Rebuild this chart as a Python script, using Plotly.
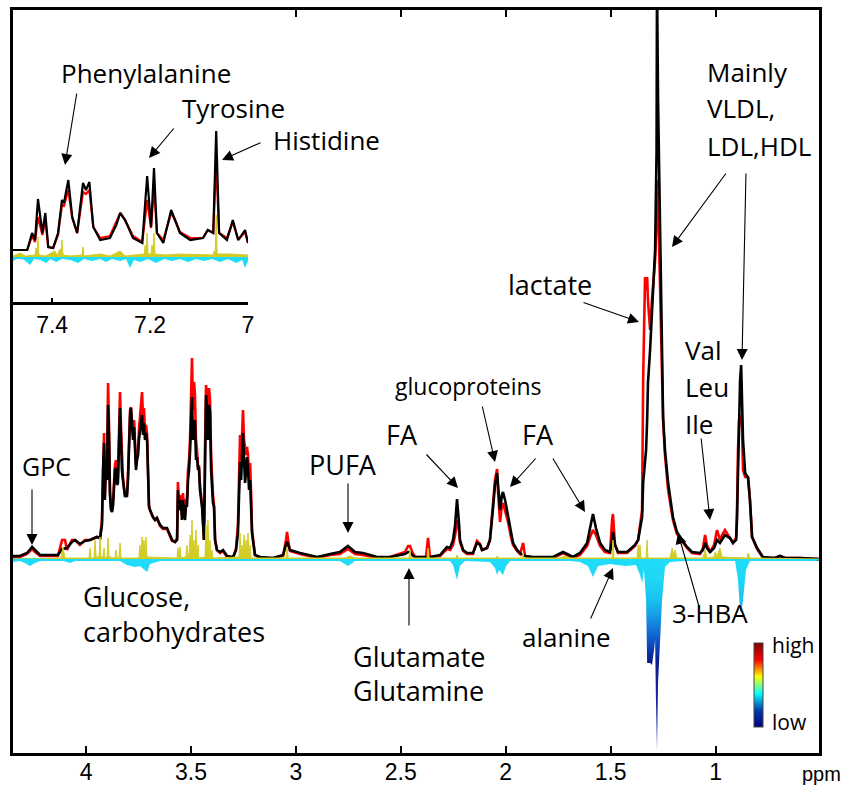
import plotly.graph_objects as go

# ---------------- data ----------------
main_ppm = [4.348, 4.315, 4.281, 4.267, 4.257, 4.243, 4.219, 4.172, 4.134, 4.114, 4.100, 4.091, 4.067, 4.052, 4.029, 4.005, 3.981, 3.948, 3.933, 3.924,
            3.919, 3.914, 3.910, 3.905, 3.900, 3.895, 3.890, 3.886, 3.881, 3.876, 3.871, 3.867, 3.862, 3.857, 3.852, 3.848, 3.843, 3.838, 3.833, 3.829,
            3.824, 3.819, 3.814, 3.810, 3.805, 3.800, 3.795, 3.790, 3.786, 3.781, 3.776, 3.771, 3.767, 3.762, 3.757, 3.752, 3.748, 3.743, 3.738, 3.733,
            3.728, 3.724, 3.719, 3.714, 3.709, 3.705, 3.700, 3.695, 3.681, 3.671, 3.662, 3.647, 3.633, 3.614, 3.600, 3.590, 3.576, 3.566, 3.562, 3.557,
            3.552, 3.547, 3.543, 3.538, 3.533, 3.528, 3.524, 3.519, 3.514, 3.509, 3.504, 3.500, 3.495, 3.490, 3.485, 3.481, 3.476, 3.471, 3.466, 3.462,
            3.457, 3.447, 3.442, 3.438, 3.433, 3.428, 3.424, 3.419, 3.414, 3.409, 3.404, 3.400, 3.395, 3.390, 3.385, 3.376, 3.361, 3.347, 3.328, 3.299,
            3.285, 3.276, 3.271, 3.266, 3.261, 3.256, 3.252, 3.247, 3.242, 3.237, 3.233, 3.228, 3.223, 3.218, 3.213, 3.209, 3.195, 3.171, 3.109, 3.061,
            3.047, 3.042, 3.037, 3.028, 2.980, 2.899, 2.837, 2.790, 2.752, 2.718, 2.680, 2.613, 2.551, 2.480, 2.465, 2.456, 2.446, 2.432, 2.380, 2.370,
            2.361, 2.313, 2.280, 2.265, 2.251, 2.241, 2.232, 2.222, 2.218, 2.203, 2.184, 2.156, 2.137, 2.122, 2.113, 2.089, 2.075, 2.060, 2.051, 2.041,
            2.037, 2.027, 2.018, 2.013, 2.003, 1.989, 1.975, 1.965, 1.946, 1.932, 1.917, 1.908, 1.870, 1.774, 1.727, 1.679, 1.646, 1.612, 1.598, 1.584,
            1.570, 1.550, 1.527, 1.503, 1.493, 1.489, 1.479, 1.465, 1.422, 1.398, 1.384, 1.369, 1.350, 1.345, 1.336, 1.331, 1.326, 1.322, 1.312, 1.303,
            1.288, 1.281, 1.279, 1.274, 1.264, 1.255, 1.250, 1.241, 1.226, 1.203, 1.184, 1.160, 1.136, 1.112, 1.074, 1.060, 1.050, 1.041, 1.026, 1.007,
            0.993, 0.979, 0.969, 0.955, 0.940, 0.931, 0.917, 0.902, 0.898, 0.893, 0.888, 0.883, 0.878, 0.874, 0.869, 0.859, 0.845, 0.836, 0.826, 0.802,
            0.774, 0.717, 0.693, 0.669, 0.597, 0.507]

serum_black = [3, 3, 6, 10, 12, 9, 4, 4, 4, 10, 11, 11, 17, 19, 15, 18, 19, 22, 21, 34,
               89, 116, 59, 99, 79, 154, 119, 64, 49, 47, 54, 69, 89, 91, 74, 76, 129, 151, 119, 89,
               79, 69, 62, 64, 62, 79, 119, 144, 151, 134, 119, 132, 109, 89, 99, 104, 119, 129, 139, 144,
               124, 136, 119, 126, 119, 89, 52, 49, 42, 39, 41, 34, 31, 31, 24, 19, 17, 19, 69, 49,
               59, 54, 39, 59, 44, 39, 54, 52, 79, 89, 109, 139, 162, 119, 129, 139, 99, 102, 89, 92,
               69, 52, 34, 19, 89, 164, 154, 119, 154, 147, 89, 72, 56, 52, 19, 9, 7, 9, 3, 2,
               9, 26, 69, 97, 79, 109, 126, 99, 76, 89, 102, 89, 69, 79, 54, 26, 4, 2, 1, 4,
               14, 17, 14, 9, 6, 2, 5, 7, 13, 7, 6, 2, 2, 5, 7, 7, 4, 2, 2, 2,
               2, 4, 12, 11, 19, 34, 60, 34, 19, 9, 6, 6, 16, 14, 9, 11, 19, 52, 74, 86,
               74, 49, 64, 67, 59, 42, 24, 16, 9, 6, 4, 3, 2, 2, 7, 2, 6, 16, 31, 45,
               31, 16, 9, 7, 19, 27, 14, 7, 7, 11, 14, 19, 42, 76, 99, 109, 139, 176, 209, 242,
               309, 409, 579, 459, 309, 209, 142, 109, 76, 42, 27, 19, 12, 7, 6, 9, 16, 11, 7, 11,
               19, 16, 19, 24, 22, 21, 16, 19, 39, 99, 159, 179, 194, 159, 119, 86, 81, 59, 22, 11,
               2, 1, 3, 1, 1, 0]

serum_red = [2, 2, 5, 8, 10, 7, 3, 3, 3, 19, 19, 9, 19, 19, 14, 19, 19, 22, 21, 39,
             99, 126, 64, 109, 89, 176, 129, 69, 51, 49, 59, 74, 94, 99, 79, 81, 139, 167, 129, 94,
             81, 71, 64, 66, 64, 84, 129, 149, 152, 139, 124, 139, 114, 94, 104, 109, 129, 144, 159, 167,
             139, 151, 129, 134, 124, 94, 54, 49, 42, 39, 41, 33, 30, 30, 23, 18, 17, 21, 77, 54,
             64, 59, 44, 66, 49, 44, 59, 59, 89, 99, 122, 159, 201, 149, 177, 164, 119, 109, 91, 94,
             74, 54, 37, 19, 109, 174, 164, 139, 171, 159, 104, 79, 64, 54, 19, 9, 6, 8, 2, 1,
             11, 34, 89, 124, 99, 134, 149, 119, 109, 104, 112, 104, 84, 96, 64, 29, 4, 1, 1, 3,
             19, 27, 19, 8, 5, 1, 4, 5, 10, 5, 4, 1, 2, 7, 13, 13, 7, 2, 2, 21,
             2, 3, 10, 9, 14, 24, 39, 27, 17, 8, 5, 5, 18, 15, 9, 11, 19, 54, 79, 90,
             69, 37, 54, 56, 49, 37, 22, 14, 8, 5, 16, 3, 1, 1, 6, 1, 4, 13, 22, 29,
             24, 13, 7, 6, 39, 45, 14, 6, 6, 10, 13, 19, 49, 179, 282, 269, 282, 259, 229, 259,
             299, 339, 379, 359, 269, 189, 139, 104, 69, 39, 25, 18, 11, 6, 5, 11, 24, 14, 7, 14,
             29, 19, 24, 29, 24, 22, 16, 21, 44, 109, 139, 144, 139, 132, 89, 82, 82, 59, 22, 10,
             1, 1, 3, 1, 1, 0]

diff_pos_ppm = [4.348, 4.219, 4.119, 4.110, 4.100, 3.986, 3.981, 3.976, 3.962, 3.957, 3.952, 3.938, 3.933, 3.929, 3.919, 3.914, 3.910, 3.900, 3.895, 3.890,
                3.862, 3.857, 3.852, 3.843, 3.838, 3.833, 3.748, 3.743, 3.738, 3.733, 3.728, 3.724, 3.719, 3.714, 3.709, 3.566, 3.562, 3.557, 3.552, 3.547,
                3.524, 3.519, 3.514, 3.509, 3.504, 3.500, 3.495, 3.490, 3.485, 3.481, 3.476, 3.471, 3.466, 3.462, 3.433, 3.428, 3.424, 3.419, 3.414, 3.409,
                3.404, 3.400, 3.395, 3.271, 3.266, 3.261, 3.256, 3.252, 3.247, 3.242, 3.237, 3.233, 3.228, 3.223, 3.218, 3.213, 3.047, 3.042, 3.037, 2.766,
                2.742, 2.718, 2.461, 2.456, 2.451, 2.375, 2.370, 2.365, 2.237, 2.232, 2.227, 2.046, 2.041, 2.037, 1.922, 1.917, 1.913, 1.741, 1.717, 1.693,
                1.493, 1.489, 1.484, 1.374, 1.369, 1.365, 1.360, 1.355, 1.331, 1.326, 1.322, 1.217, 1.207, 1.203, 1.193, 1.184, 1.060, 1.050, 1.041, 1.007,
                1.002, 0.993, 0.979, 0.969, 0.850, 0.845, 0.836, 0.507]
diff_pos = [0, 0, 1, 12, 1, 1, 11, 1, 1, 19, 2, 2, 22, 2, 2, 11, 1, 2, 21, 2,
            1, 9, 1, 1, 16, 1, 1, 14, 4, 22, 6, 19, 5, 22, 2, 1, 11, 3, 12, 1,
            2, 14, 3, 5, 24, 6, 39, 5, 19, 4, 29, 3, 14, 1, 2, 34, 6, 39, 5, 19,
            3, 9, 1, 2, 26, 4, 14, 3, 24, 4, 19, 3, 26, 3, 14, 1, 1, 12, 1, 1,
            3, 1, 1, 9, 1, 1, 11, 1, 1, 4, 1, 1, 3, 1, 1, 6, 1, 1, 3, 1,
            1, 19, 1, 1, 14, 6, 14, 1, 1, 19, 1, 1, 11, 4, 9, 1, 1, 9, 1, 2,
            7, 3, 11, 2, 1, 6, 1, 0]

diff_neg_ppm = [4.348, 4.315, 4.291, 4.267, 4.243, 4.219, 4.124, 4.076, 4.052, 3.933, 3.838, 3.805, 3.767, 3.743, 3.709, 3.695, 3.647, 3.457, 3.361, 2.790,
                2.752, 2.718, 2.504, 2.265, 2.251, 2.232, 2.218, 2.194, 2.075, 2.051, 2.041, 2.032, 2.013, 1.998, 1.979, 1.741, 1.646, 1.608, 1.584, 1.560,
                1.503, 1.431, 1.379, 1.360, 1.350, 1.341, 1.331, 1.326, 1.312, 1.303, 1.293, 1.288, 1.284, 1.279, 1.274, 1.264, 1.255, 1.241, 1.217, 1.074,
                0.907, 0.893, 0.883, 0.878, 0.869, 0.855, 0.836, 0.507]
diff_neg = [-3, -2, -4, -7, -4, -2, -1, -4, -2, -1, -2, -6, -8, -7, -13, -5, -2, -2, -1, -2,
            -7, -2, -1, -2, -6, -21, -7, -2, -3, -9, -16, -11, -16, -7, -2, -1, -3, -7, -18, -7,
            -5, -7, -6, -16, -24, -11, -41, -104, -104, -106, -91, -81, -141, -191, -124, -81, -41, -8, -3, -1,
            -2, -21, -51, -54, -41, -11, -2, -1]

inset_ppm = [7.480, 7.451, 7.441, 7.435, 7.429, 7.420, 7.414, 7.408, 7.398, 7.388, 7.380, 7.376, 7.367, 7.359, 7.349, 7.337, 7.331, 7.324, 7.316, 7.302,
             7.282, 7.269, 7.261, 7.251, 7.235, 7.216, 7.206, 7.198, 7.192, 7.186, 7.173, 7.157, 7.149, 7.139, 7.118, 7.092, 7.082, 7.071, 7.065, 7.059,
             7.043, 7.031, 7.020, 7.006, 7.000]
inset_black = [7, 7, 24, 17, 58, 24, 44, 10, 9, 24, 57, 54, 77, 40, 24, 74, 67, 75, 30, 17,
               19, 32, 44, 37, 19, 14, 81, 30, 89, 24, 14, 47, 37, 24, 17, 19, 27, 24, 126, 24,
               17, 37, 17, 27, 14]
inset_red = [7, 7, 21, 15, 40, 22, 37, 10, 9, 22, 52, 51, 67, 39, 24, 65, 63, 67, 30, 19,
             21, 35, 44, 37, 21, 15, 57, 29, 70, 24, 17, 44, 37, 25, 19, 19, 27, 24, 95, 24,
             19, 35, 17, 25, 14]
inset_pos_ppm = [7.480, 7.465, 7.455, 7.435, 7.433, 7.431, 7.429, 7.427, 7.414, 7.394, 7.390, 7.384, 7.382, 7.380, 7.378, 7.363, 7.339, 7.337, 7.335, 7.302,
                 7.282, 7.261, 7.251, 7.220, 7.212, 7.210, 7.208, 7.206, 7.204, 7.198, 7.196, 7.194, 7.192, 7.190, 7.169, 7.139, 7.098, 7.071, 7.069, 7.067,
                 7.065, 7.063, 7.037, 7.000]
inset_pos = [1, 4, 1, 2, 9, 3, 20, 2, 1, 6, 1, 8, 3, 17, 2, 1, 2, 10, 1, 3,
             1, 6, 1, 2, 3, 12, 4, 24, 3, 3, 12, 4, 24, 3, 2, 3, 2, 2, 6, 3,
             42, 3, 3, 2]
inset_neg_ppm = [7.480, 7.469, 7.457, 7.445, 7.437, 7.424, 7.412, 7.404, 7.392, 7.380, 7.363, 7.347, 7.335, 7.318, 7.302, 7.290, 7.278, 7.261, 7.249, 7.241,
                 7.233, 7.220, 7.204, 7.188, 7.171, 7.155, 7.139, 7.122, 7.106, 7.090, 7.073, 7.057, 7.041, 7.024, 7.012, 7.006, 7.000]
inset_neg = [-4, -1, -3, -8, -2, -3, -6, -2, -5, -2, -3, -6, -2, -4, -2, -5, -2, -4, -2, -11,
             -3, -5, -2, -6, -2, -4, -2, -5, -2, -4, -2, -5, -2, -6, -3, -11, -4]

main_ticks = [4, 3.5, 3, 2.5, 2, 1.5, 1]
main_tick_text = ["4", "3.5", "3", "2.5", "2", "1.5", "1"]
inset_ticks = [7.4, 7.2, 7.0]
inset_tick_text = ["7.4", "7.2", "7"]

assert len(main_ppm) == len(serum_black) == len(serum_red), (len(main_ppm), len(serum_black), len(serum_red))
assert len(diff_pos_ppm) == len(diff_pos), (len(diff_pos_ppm), len(diff_pos))
assert len(diff_neg_ppm) == len(diff_neg), (len(diff_neg_ppm), len(diff_neg))
assert len(inset_ppm) == len(inset_black) == len(inset_red)
assert len(inset_pos_ppm) == len(inset_pos), (len(inset_pos_ppm), len(inset_pos))
assert len(inset_neg_ppm) == len(inset_neg), (len(inset_neg_ppm), len(inset_neg))

# ---------------- layout geometry ----------------
W, H = 845, 785
ML, MR, MT, MB = 13, 26, 10, 32
PW, PH = W - ML - MR, H - MT - MB


def px(x):
    return (x - ML) / PW


def py(y):
    return (H - MB - y) / PH


BLACK = "#000000"
RED = "#ff0000"
YEL = "#d2cc26"
CYAN = "#1fd8f6"
neg_scale = [[0.0, "#1c34b4"], [0.40, "#101e98"], [0.47, "#0a1a8c"], [0.58, "#0f55c8"],
             [0.69, "#1592e2"], [0.79, "#19c2f0"], [0.9, "#1fd8f6"], [1.0, "#1fdcf8"]]

fig = go.Figure()


def add_set(xa, ya, ppm, red, black, pppm, pos, nppm, neg, lw):
    fig.add_trace(go.Scatter(x=ppm, y=red, mode="lines", line=dict(color=RED, width=lw),
                             xaxis=xa, yaxis=ya, showlegend=False, hoverinfo="skip"))
    fig.add_trace(go.Scatter(x=ppm, y=black, mode="lines", line=dict(color=BLACK, width=lw),
                             xaxis=xa, yaxis=ya, showlegend=False, hoverinfo="skip"))
    fig.add_trace(go.Scatter(x=pppm, y=pos, mode="lines", fill="tozeroy", fillcolor=YEL,
                             line=dict(color=YEL, width=1), xaxis=xa, yaxis=ya,
                             showlegend=False, hoverinfo="skip"))
    fig.add_trace(go.Scatter(x=nppm, y=neg, mode="lines", fill="tozeroy",
                             fillgradient=dict(type="vertical", colorscale=neg_scale, start=-194, stop=0),
                             line=dict(color=CYAN, width=0), xaxis=xa, yaxis=ya,
                             showlegend=False, hoverinfo="skip"))


add_set("x", "y", main_ppm, serum_red, serum_black, diff_pos_ppm, diff_pos, diff_neg_ppm, diff_neg, 2.6)
add_set("x2", "y2", inset_ppm, inset_red, inset_black, inset_pos_ppm, inset_pos, inset_neg_ppm, inset_neg, 2.2)

# colour bar (high / low)
fig.add_trace(go.Scatter(x=[None], y=[None], mode="markers", showlegend=False, hoverinfo="skip",
                         marker=dict(color=[0, 1], cmin=0, cmax=1, colorscale="Jet", showscale=True,
                                     colorbar=dict(x=px(754), xanchor="left", y=py(685), yanchor="middle",
                                                   len=84, lenmode="pixels", thickness=9, xpad=0, ypad=0,
                                                   outlinewidth=1, outlinecolor="#444",
                                                   showticklabels=False, ticks=""))))

anns = []


def label(text, x, y, xanchor="center", size=26):
    anns.append(dict(text=text, x=px(x), y=py(y), xref="paper", yref="paper", showarrow=False,
                     xanchor=xanchor, yanchor="middle",
                     font=dict(family="Open Sans, sans-serif", size=size, color="black")))


def arrow(tx, ty, hx, hy):
    anns.append(dict(text="", x=px(hx), y=py(hy), xref="paper", yref="paper", showarrow=True,
                     ax=tx - hx, ay=ty - hy, arrowhead=2, arrowsize=2.0, arrowwidth=1.1,
                     arrowcolor="black", standoff=0, startstandoff=0))


label("Phenylalanine", 146, 73)
arrow(77, 92, 65, 165)
label("Tyrosine", 234, 108)
arrow(175, 127, 149, 158)
label("Histidine", 326, 140)
arrow(262, 142, 222, 160)
label("Mainly", 705, 72, "left")
label("VLDL,", 705, 108, "left")
label("LDL,HDL", 705, 146, "left")
arrow(727, 172, 672, 247)
arrow(746, 172, 742, 360)
label("lactate", 550, 284, size=27)
arrow(582, 302, 639, 322)
label("Val", 683, 350, "left")
label("Leu", 683, 387, "left")
label("Ile", 683, 424, "left")
arrow(701, 437, 710, 520)
label("GPC", 46, 466, size=25)
arrow(32, 488, 32, 545)
label("PUFA", 343, 465, size=27)
arrow(348, 482, 348, 533)
label("FA", 402, 434, size=27)
arrow(425, 453, 458, 488)
label("glucoproteins", 468, 386, size=23)
arrow(482, 405, 495, 462)
label("FA", 538, 434, size=27)
arrow(537, 457, 510, 487)
arrow(552, 457, 585, 512)
label("Glucose,", 81, 596, "left", 27)
label("carbohydrates", 81, 631, "left", 27)
label("Glutamate", 351, 656, "left", 27)
label("Glutamine", 351, 690, "left", 27)
arrow(409, 627, 409, 568)
label("alanine", 566, 637)
arrow(590, 620, 613, 568)
label("3-HBA", 710, 613)
arrow(700, 610, 678, 533)
label("high", 770, 645, "left", 21)
label("low", 770, 722, "left", 21)
anns.append(dict(text="ppm", x=px(800), y=py(774), xref="paper", yref="paper", showarrow=False,
                 xanchor="left", yanchor="middle",
                 font=dict(family="Liberation Sans, Arial, sans-serif", size=20, color="black")))

AX = dict(showgrid=False, showline=True, linecolor="black")
TICKFONT = dict(family="Liberation Sans, Arial, sans-serif", size=23, color="black")
fig.update_layout(
    width=W, height=H, margin=dict(l=ML, r=MR, t=MT, b=MB, autoexpand=False),
    paper_bgcolor="white", plot_bgcolor="white", showlegend=False,
    xaxis=dict(**AX, zeroline=False, range=[4.348, 0.507], linewidth=2.5, mirror="ticks", ticks="inside",
               ticklen=7, tickwidth=2, tickcolor="black", tickvals=main_ticks, ticktext=main_tick_text,
               ticklabelstandoff=-3, tickfont=TICKFONT),
    yaxis=dict(**AX, range=[-194, 549], linewidth=2.5, mirror=True, ticks="", showticklabels=False,
               zeroline=True, zerolinecolor=CYAN, zerolinewidth=2.5),
    xaxis2=dict(**AX, zeroline=False, domain=[0, px(248)], anchor="y2", range=[7.48, 7.0], linewidth=3,
                ticks="inside", ticklen=4, tickwidth=1.5, tickcolor="black",
                tickvals=inset_ticks, ticktext=inset_tick_text, tickfont=TICKFONT),
    yaxis2=dict(showgrid=False, showline=False, domain=[py(302), 1], anchor="x2",
                range=[-45, 247], showticklabels=False, ticks="",
                zeroline=True, zerolinecolor=CYAN, zerolinewidth=2.5),
    annotations=anns,
)

fig.write_html("out.html", config={"displayModeBar": False},
               post_script="document.body.style.margin='0';document.body.style.overflow='hidden';")
